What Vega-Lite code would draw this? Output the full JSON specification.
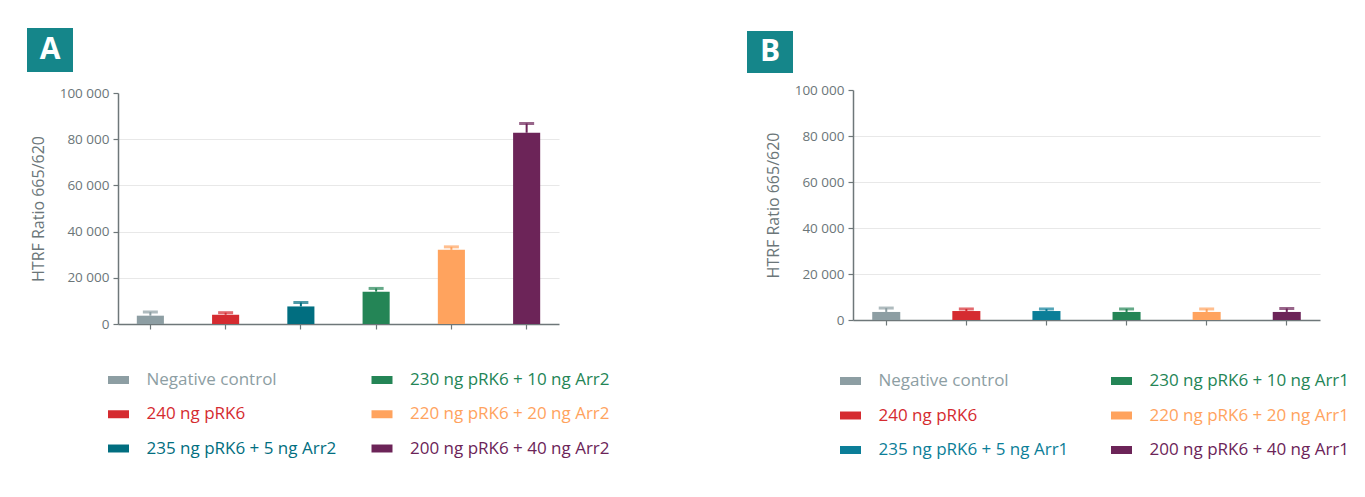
{
  "$schema": "https://vega.github.io/schema/vega-lite/v6.json",
  "padding": {"left": 27, "top": 28, "right": 0, "bottom": 0},
  "background": "white",
  "config": {
    "font": "Open Sans",
    "view": {"stroke": null},
    "axis": {"labelFont": "Open Sans", "titleFont": "Open Sans"}
  },
  "datasets": {
    "a": [
      {"series": "Negative control", "value": 3600, "upper": 5200, "legendRow": 0, "legendCol": 0},
      {"series": "240 ng pRK6", "value": 4000, "upper": 4900, "legendRow": 1, "legendCol": 0},
      {"series": "235 ng pRK6 + 5 ng Arr2", "value": 7600, "upper": 9300, "legendRow": 2, "legendCol": 0},
      {"series": "230 ng pRK6 + 10 ng Arr2", "value": 14000, "upper": 15400, "legendRow": 0, "legendCol": 1},
      {"series": "220 ng pRK6 + 20 ng Arr2", "value": 32100, "upper": 33400, "legendRow": 1, "legendCol": 1},
      {"series": "200 ng pRK6 + 40 ng Arr2", "value": 82800, "upper": 86800, "legendRow": 2, "legendCol": 1}
    ],
    "b": [
      {"series": "Negative control", "value": 3500, "upper": 5200, "legendRow": 0, "legendCol": 0},
      {"series": "240 ng pRK6", "value": 3900, "upper": 4800, "legendRow": 1, "legendCol": 0},
      {"series": "235 ng pRK6 + 5 ng Arr1", "value": 3900, "upper": 4800, "legendRow": 2, "legendCol": 0},
      {"series": "230 ng pRK6 + 10 ng Arr1", "value": 3500, "upper": 4800, "legendRow": 0, "legendCol": 1},
      {"series": "220 ng pRK6 + 20 ng Arr1", "value": 3500, "upper": 4800, "legendRow": 1, "legendCol": 1},
      {"series": "200 ng pRK6 + 40 ng Arr1", "value": 3500, "upper": 5000, "legendRow": 2, "legendCol": 1}
    ],
    "badgeA": [{"label": "A"}],
    "badgeB": [{"label": "B"}],
    "none": []
  },
  "resolve": {"scale": {"color": "independent"}},
  "spacing": 109,
  "hconcat": [
    {
      "spacing": -43,
      "hconcat": [
        {
          "data": {"name": "badgeA"},
          "width": 46, "height": 44,
          "view": {"fill": "#15868a", "stroke": null},
          "mark": {"type": "text", "color": "white", "fontSize": 30, "fontWeight": "bold", "font": "Open Sans", "baseline": "middle", "align": "center"},
          "encoding": {"text": {"field": "label"}}
        },
        {
          "spacing": 12,
          "vconcat": [
            {
              "data": {"name": "none"},
              "width": 10, "height": 46,
              "mark": {"type": "point", "opacity": 0},
              "encoding": {}
            },
            {
              "data": {"name": "a"},
              "width": 441, "height": 231,
              "encoding": {
                "x": {"field": "series", "type": "nominal", "sort": null,
                  "scale": {"paddingInner": 0.64, "paddingOuter": 0.25},
                  "axis": {"title": null, "labels": false, "domainColor": "#6e7779", "domainWidth": 1.5, "tickColor": "#6e7779", "tickSize": 5, "tickWidth": 1.2}},
                "color": {"field": "series", "type": "nominal", "legend": null,
                  "scale": {"domain": ["Negative control", "240 ng pRK6", "235 ng pRK6 + 5 ng Arr2", "230 ng pRK6 + 10 ng Arr2", "220 ng pRK6 + 20 ng Arr2", "200 ng pRK6 + 40 ng Arr2"],
                    "range": ["#8d9ea3", "#d52b30", "#016e80", "#248556", "#ffa35e", "#6c2458"]}}
              },
              "layer": [
                {"mark": {"type": "bar"},
                 "encoding": {"y": {"field": "value", "type": "quantitative",
                   "scale": {"domain": [0, 100000]},
                   "axis": {"values": [0, 20000, 40000, 60000, 80000, 100000],
                     "labelExpr": "replace(format(datum.value, ','), ',', ' ')",
                     "labelColor": "#6b7679", "labelFontSize": 13.5, "labelPadding": 4,
                     "title": "HTRF Ratio 665/620", "titleColor": "#6b7679", "titleFontSize": 16, "titleFontWeight": "normal", "titlePadding": 13,
                     "domainColor": "#6e7779", "domainWidth": 1.5, "tickColor": "#6e7779", "tickSize": 5, "tickWidth": 1.2,
                     "grid": true, "gridColor": {"condition": {"test": "datum.value === 0 || datum.value === 100000", "value": "transparent"}, "value": "#e8e8e8"}, "gridWidth": 1.2}}}},
                {"mark": {"type": "rule", "strokeWidth": 2},
                 "encoding": {"y": {"field": "value", "type": "quantitative"}, "y2": {"field": "upper"}}},
                {"mark": {"type": "tick", "size": 15, "thickness": 3},
                 "encoding": {"y": {"field": "upper", "type": "quantitative"}}}
              ]
            },
            {
              "data": {"name": "a"},
              "width": 520, "height": 120,
              "encoding": {
                "x": {"field": "legendCol", "type": "ordinal", "scale": {"type": "point", "range": [0.5, 264], "padding": 0}, "axis": null},
                "y": {"field": "legendRow", "type": "ordinal", "scale": {"type": "point", "range": [37, 105.5], "padding": 0}, "axis": null},
                "color": {"field": "series", "type": "nominal", "legend": null,
                  "scale": {"domain": ["Negative control", "240 ng pRK6", "235 ng pRK6 + 5 ng Arr2", "230 ng pRK6 + 10 ng Arr2", "220 ng pRK6 + 20 ng Arr2", "200 ng pRK6 + 40 ng Arr2"],
                    "range": ["#8d9ea3", "#d52b30", "#016e80", "#248556", "#ffa35e", "#6c2458"]}}
              },
              "layer": [
                {"mark": {"type": "point", "shape": "M-1,-0.38H1V0.38H-1Z", "filled": true, "opacity": 1, "size": 441}},
                {"mark": {"type": "text", "align": "left", "baseline": "middle", "dx": 28, "fontSize": 17, "font": "Open Sans"},
                 "encoding": {"text": {"field": "series"}}}
              ]
            }
          ]
        }
      ]
    },
    {
      "spacing": -28,
      "hconcat": [
        {
          "spacing": 2,
          "vconcat": [
            {
              "data": {"name": "none"},
              "width": 10, "height": 1,
              "mark": {"type": "point", "opacity": 0},
              "encoding": {}
            },
            {
              "data": {"name": "badgeB"},
              "width": 46, "height": 42,
              "view": {"fill": "#15868a", "stroke": null},
              "mark": {"type": "text", "color": "white", "fontSize": 30, "fontWeight": "bold", "font": "Open Sans", "baseline": "middle", "align": "center"},
              "encoding": {"text": {"field": "label"}}
            }
          ]
        },
        {
          "spacing": 9,
          "vconcat": [
            {
              "data": {"name": "none"},
              "width": 10, "height": 46,
              "mark": {"type": "point", "opacity": 0},
              "encoding": {}
            },
            {
              "data": {"name": "b"},
              "width": 467, "height": 230,
              "encoding": {
                "x": {"field": "series", "type": "nominal", "sort": null,
                  "scale": {"paddingInner": 0.65, "paddingOuter": 0.24},
                  "axis": {"title": null, "labels": false, "domainColor": "#6e7779", "domainWidth": 1.5, "tickColor": "#6e7779", "tickSize": 5, "tickWidth": 1.2}},
                "color": {"field": "series", "type": "nominal", "legend": null,
                  "scale": {"domain": ["Negative control", "240 ng pRK6", "235 ng pRK6 + 5 ng Arr1", "230 ng pRK6 + 10 ng Arr1", "220 ng pRK6 + 20 ng Arr1", "200 ng pRK6 + 40 ng Arr1"],
                    "range": ["#8d9ea3", "#d52b30", "#0b7e98", "#248556", "#ffa35e", "#6c2458"]}}
              },
              "layer": [
                {"mark": {"type": "bar"},
                 "encoding": {"y": {"field": "value", "type": "quantitative",
                   "scale": {"domain": [0, 100000]},
                   "axis": {"values": [0, 20000, 40000, 60000, 80000, 100000],
                     "labelExpr": "replace(format(datum.value, ','), ',', ' ')",
                     "labelColor": "#6b7679", "labelFontSize": 13.5, "labelPadding": 4,
                     "title": "HTRF Ratio 665/620", "titleColor": "#6b7679", "titleFontSize": 16, "titleFontWeight": "normal", "titlePadding": 13,
                     "domainColor": "#6e7779", "domainWidth": 1.5, "tickColor": "#6e7779", "tickSize": 5, "tickWidth": 1.2,
                     "grid": true, "gridColor": {"condition": {"test": "datum.value === 0 || datum.value === 100000", "value": "transparent"}, "value": "#e8e8e8"}, "gridWidth": 1.2}}}},
                {"mark": {"type": "rule", "strokeWidth": 2},
                 "encoding": {"y": {"field": "value", "type": "quantitative"}, "y2": {"field": "upper"}}},
                {"mark": {"type": "tick", "size": 15, "thickness": 3},
                 "encoding": {"y": {"field": "upper", "type": "quantitative"}}}
              ]
            },
            {
              "data": {"name": "b"},
              "width": 470, "height": 125,
              "encoding": {
                "x": {"field": "legendCol", "type": "ordinal", "scale": {"type": "point", "range": [-2.5, 268.5], "padding": 0}, "axis": null},
                "y": {"field": "legendRow", "type": "ordinal", "scale": {"type": "point", "range": [45, 114], "padding": 0}, "axis": null},
                "color": {"field": "series", "type": "nominal", "legend": null,
                  "scale": {"domain": ["Negative control", "240 ng pRK6", "235 ng pRK6 + 5 ng Arr1", "230 ng pRK6 + 10 ng Arr1", "220 ng pRK6 + 20 ng Arr1", "200 ng pRK6 + 40 ng Arr1"],
                    "range": ["#8d9ea3", "#d52b30", "#0b7e98", "#248556", "#ffa35e", "#6c2458"]}}
              },
              "layer": [
                {"mark": {"type": "point", "shape": "M-1,-0.38H1V0.38H-1Z", "filled": true, "opacity": 1, "size": 441}},
                {"mark": {"type": "text", "align": "left", "baseline": "middle", "dx": 28, "fontSize": 17, "font": "Open Sans"},
                 "encoding": {"text": {"field": "series"}}}
              ]
            }
          ]
        }
      ]
    }
  ]
}
